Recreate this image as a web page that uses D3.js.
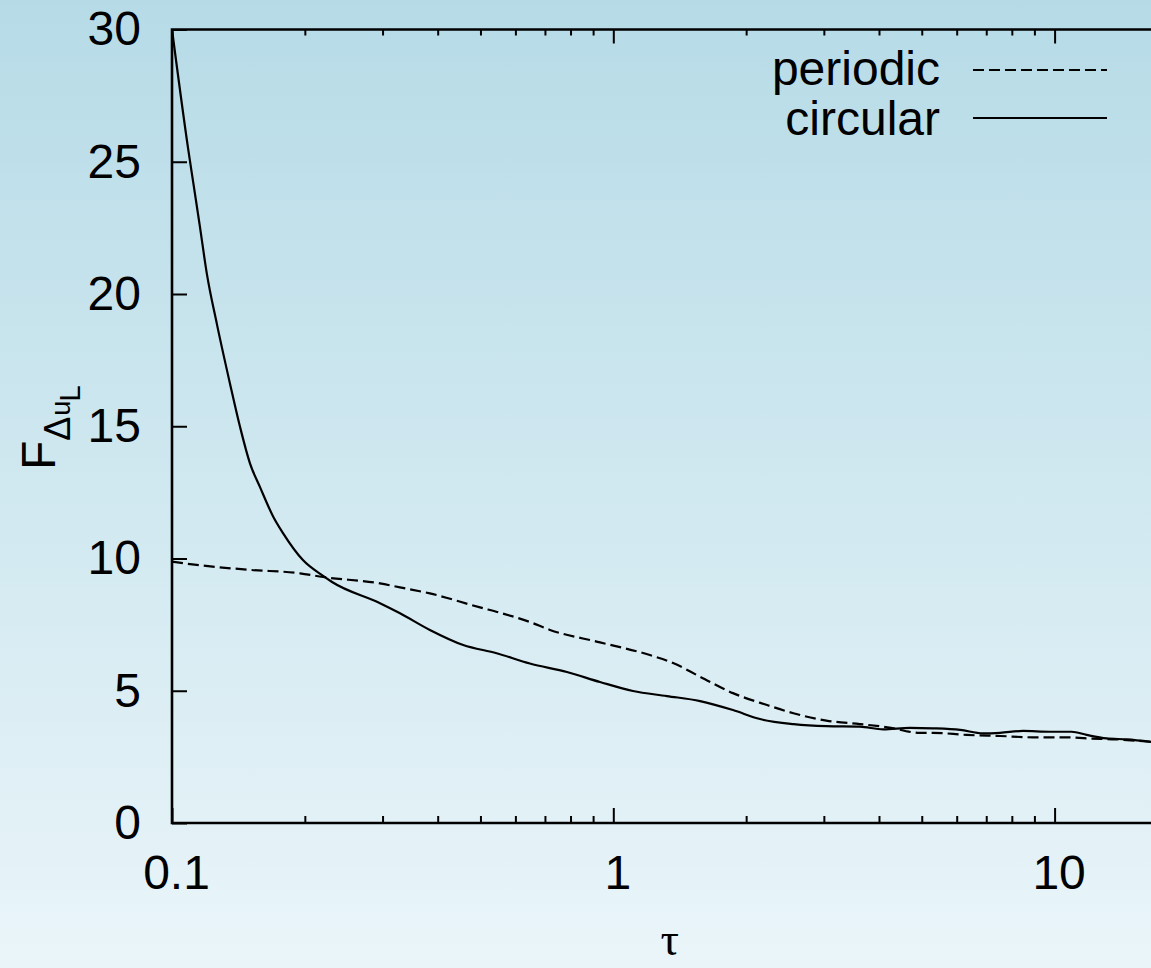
<!DOCTYPE html>
<html>
<head>
<meta charset="utf-8">
<script src="https://cdn.jsdelivr.net/npm/d3@7"></script>
<style>
  html, body { margin: 0; padding: 0; overflow: hidden; }
  svg { display: block; }
  text { font-family: "Liberation Sans", Arial, Helvetica, sans-serif; fill: #000; }
</style>
</head>
<body>
<svg id="chart" width="1151" height="968"></svg>
<script>
// ---- data ----
const circularTau = [0.1, 0.1089, 0.1118, 0.1157, 0.1199, 0.1263, 0.1353, 0.1426, 0.1502, 0.1582,
  0.1696, 0.1786, 0.198, 0.220, 0.2305, 0.296, 0.3286, 0.384, 0.457, 0.544, 0.647,
  0.785, 0.933, 1.108, 1.323, 1.573, 1.867, 2.15, 2.56, 3.04, 3.62, 4.09, 4.70, 5.31, 6.11,
  6.88, 7.52, 8.48, 9.76, 10.93, 11.82, 13.12, 14.57, 16.54];
const circularF = [30, 25.44, 24.18, 22.54, 20.78, 18.89, 16.62, 14.98, 13.60, 12.71,
  11.58, 10.95, 9.94, 9.34, 9.11, 8.31, 7.93, 7.30, 6.73, 6.42, 6.03,
  5.71, 5.33, 4.99, 4.80, 4.61, 4.27, 3.93, 3.74, 3.66, 3.64, 3.54, 3.60, 3.58, 3.52,
  3.39, 3.41, 3.48, 3.45, 3.45, 3.33, 3.20, 3.16, 3.07];

const periodicTau = [0.1, 0.1176, 0.1502, 0.1950, 0.220, 0.296, 0.3286, 0.384, 0.499, 0.5538,
  0.647, 0.7188, 0.933, 1.21, 1.366, 1.573, 1.867, 2.23, 2.56, 3.04, 3.62, 4.18, 4.95, 5.30,
  6.32, 7.52, 8.93, 10.65, 11.82, 13.82, 16.54];
const periodicF = [9.88, 9.73, 9.57, 9.44, 9.30, 9.06, 8.91, 8.68, 8.15, 7.95,
  7.60, 7.30, 6.83, 6.35, 6.05, 5.53, 4.91, 4.46, 4.15, 3.87, 3.74, 3.62, 3.41, 3.41,
  3.33, 3.29, 3.24, 3.24, 3.20, 3.16, 3.07];

const xMajorTicks = [0.1, 1, 10];
const xMinorTicks = [0.2, 0.3, 0.4, 0.5, 0.6, 0.7, 0.8, 0.9, 2, 3, 4, 5, 6, 7, 8, 9];
const yTicks = [0, 5, 10, 15, 20, 25, 30];
const seriesNames = ["periodic", "circular"];

// ---- layout ----
const W = 1151, H = 968;
const plotLeft = 172, plotTop = 29.5, plotBottom = 823;
const decade = 441.3;
const xMax = 18;

const svg = d3.select("#chart");

// background gradient
const defs = svg.append("defs");
const grad = defs.append("linearGradient").attr("id", "bg")
  .attr("x1", 0).attr("y1", 0).attr("x2", 0).attr("y2", 1);
grad.append("stop").attr("offset", "0%").attr("stop-color", "#b6dbe7");
grad.append("stop").attr("offset", "100%").attr("stop-color", "#eaf5f9");
svg.append("rect").attr("width", W).attr("height", H).attr("fill", "url(#bg)");

const x = d3.scaleLog().domain([0.1, xMax]).range([plotLeft, plotLeft + decade * Math.log10(xMax / 0.1)]);
const y = d3.scaleLinear().domain([0, 30]).range([plotBottom, plotTop]);

const fontSize = 48;

function styleAxis(g) {
  g.select(".domain").remove();
  g.selectAll(".tick line").attr("stroke", "#000").attr("stroke-width", 2);
  g.selectAll("text").attr("font-size", fontSize + "px")
    .attr("font-family", "'Liberation Sans', Arial, sans-serif").attr("fill", "#000");
}

// bottom axis major
svg.append("g").attr("transform", `translate(0,${plotBottom})`)
  .call(d3.axisBottom(x).tickValues(xMajorTicks).tickSize(-15).tickPadding(32)
    .tickFormat(d3.format("~g")))
  .call(styleAxis)
  .call(g => g.selectAll("text").attr("dx", 4));
// bottom axis minor
svg.append("g").attr("transform", `translate(0,${plotBottom})`)
  .call(d3.axisBottom(x).tickValues(xMinorTicks).tickSize(-7).tickFormat(""))
  .call(styleAxis);
// top axis major / minor (mirror)
svg.append("g").attr("transform", `translate(0,${plotTop})`)
  .call(d3.axisTop(x).tickValues(xMajorTicks).tickSize(-14).tickFormat(""))
  .call(styleAxis);
svg.append("g").attr("transform", `translate(0,${plotTop})`)
  .call(d3.axisTop(x).tickValues(xMinorTicks).tickSize(-6).tickFormat(""))
  .call(styleAxis);

// left axis
svg.append("g").attr("transform", `translate(${plotLeft},0)`)
  .call(d3.axisLeft(y).tickValues(yTicks).tickSize(-15).tickPadding(31))
  .call(styleAxis);

// frame (left, bottom, top)
svg.append("path")
  .attr("d", `M${W + 5},${plotTop}H${plotLeft}V${plotBottom}H${W + 5}`)
  .attr("fill", "none").attr("stroke", "#000").attr("stroke-width", 2.6);

// curves
const line = d3.line().x(d => x(d[0])).y(d => y(d[1])).curve(d3.curveMonotoneX);
const periodic = periodicTau.map((t, i) => [t, periodicF[i]]);
const circular = circularTau.map((t, i) => [t, circularF[i]]);

svg.append("path").datum(periodic).attr("d", line)
  .attr("fill", "none").attr("stroke", "#000").attr("stroke-width", 2.2)
  .attr("stroke-dasharray", "11,5");
svg.append("path").datum(circular).attr("d", line)
  .attr("fill", "none").attr("stroke", "#000").attr("stroke-width", 2.2)
  .attr("stroke-linejoin", "round");

// legend
const legend = [
  { name: seriesNames[0], dash: "11,5", ty: 85, ly: 70 },
  { name: seriesNames[1], dash: null, ty: 135, ly: 118 }
];
legend.forEach(l => {
  svg.append("text").attr("x", 940).attr("y", l.ty).attr("text-anchor", "end")
    .attr("font-size", fontSize + "px").text(l.name);
  const ln = svg.append("line").attr("x1", 973).attr("x2", 1107)
    .attr("y1", l.ly).attr("y2", l.ly)
    .attr("stroke", "#000").attr("stroke-width", 2.2);
  if (l.dash) ln.attr("stroke-dasharray", l.dash);
});

// x label
svg.append("text").attr("x", (plotLeft + x(xMax)) / 2).attr("y", 955)
  .attr("text-anchor", "middle")
  .style("font-family", "'Liberation Serif', 'DejaVu Serif', serif")
  .attr("font-size", "46px").text("τ");

// y label F_{Δu_L}
const yl = svg.append("text").attr("transform", "translate(55,470) rotate(-90)")
  .attr("font-size", fontSize + "px");
yl.append("tspan").text("F");
yl.append("tspan").attr("dy", 15).attr("font-size", "36px").text("Δ");
yl.append("tspan").attr("font-size", "27px").attr("dx", 1).text("u");
yl.append("tspan").attr("dy", 10).attr("dx", -1).attr("font-size", "29px").text("L");
</script>
</body>
</html>
